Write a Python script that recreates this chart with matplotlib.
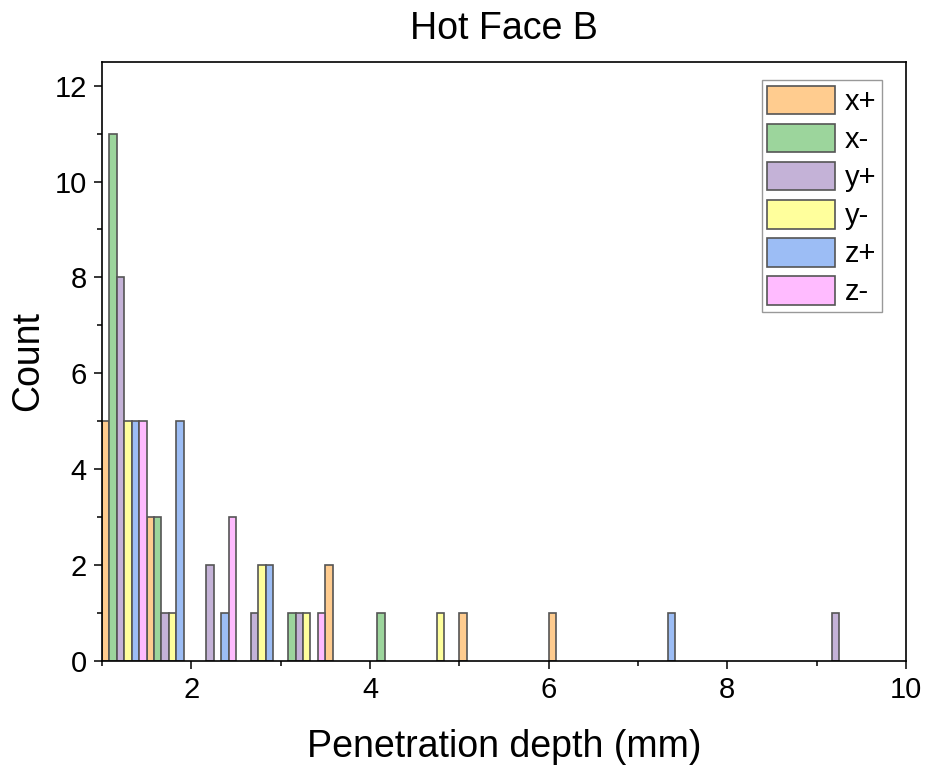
import numpy as np
import matplotlib
matplotlib.use("Agg")
import matplotlib.pyplot as plt
from matplotlib.ticker import MultipleLocator

plt.rcParams['font.family'] = ['Liberation Sans', 'DejaVu Sans']

# Histogram bins (left edges, width 0.5 mm)
bin_lefts = [1.0, 1.5, 2.0, 2.5, 3.0, 3.5, 4.0, 4.5, 5.0, 5.5,
             6.0, 6.5, 7.0, 7.5, 8.0, 8.5, 9.0, 9.5]
bin_width = 0.5

series_names = ["x+", "x-", "y+", "y-", "z+", "z-"]
counts_xp = [5, 3, 0, 0, 0, 2, 0, 0, 1, 0, 1, 0, 0, 0, 0, 0, 0, 0]
counts_xm = [11, 3, 0, 0, 1, 0, 1, 0, 0, 0, 0, 0, 0, 0, 0, 0, 0, 0]
counts_yp = [8, 1, 2, 1, 1, 0, 0, 0, 0, 0, 0, 0, 0, 0, 0, 0, 1, 0]
counts_ym = [5, 1, 0, 2, 1, 0, 0, 1, 0, 0, 0, 0, 0, 0, 0, 0, 0, 0]
counts_zp = [5, 5, 1, 2, 0, 0, 0, 0, 0, 0, 0, 0, 1, 0, 0, 0, 0, 0]
counts_zm = [5, 0, 3, 0, 1, 0, 0, 0, 0, 0, 0, 0, 0, 0, 0, 0, 0, 0]
all_counts = [counts_xp, counts_xm, counts_yp, counts_ym, counts_zp, counts_zm]

colors = ["#FFCC8F", "#9CD59C", "#C4B2D7", "#FFFF9C", "#9CBDF5", "#FFBBFF"]

fig = plt.figure(figsize=(9.25, 7.66), dpi=100)
ax = fig.add_axes([0.1102, 0.1371, 0.9795 - 0.1102, 0.9195 - 0.1371])

n = len(series_names)
w = bin_width / n
edges = np.array(bin_lefts)
for i, (name, cnt, col) in enumerate(zip(series_names, all_counts, colors)):
    cnt = np.array(cnt)
    mask = cnt > 0
    ax.bar(edges[mask] + i * w, cnt[mask], width=w, align='edge',
           color=col, edgecolor='#555555', linewidth=1.2, label=name)

ax.set_xlim(1, 10)
ax.set_ylim(0, 12.5)
ax.xaxis.set_major_locator(MultipleLocator(2))
ax.xaxis.set_minor_locator(MultipleLocator(1))
ax.yaxis.set_major_locator(MultipleLocator(2))
ax.yaxis.set_minor_locator(MultipleLocator(1))
ax.tick_params(which='major', direction='out', length=6, width=1.1, labelsize=21, pad=5)
ax.tick_params(which='minor', direction='out', length=3.3, width=1.1)
for s in ax.spines.values():
    s.set_linewidth(1.2)

ax.set_title("Hot Face B", fontsize=27, pad=16)
ax.set_xlabel("Penetration depth (mm)", fontsize=27, labelpad=18)
ax.set_ylabel("Count", fontsize=27, labelpad=6)

leg = ax.legend(loc='upper right', bbox_to_anchor=(0.9698, 0.9695), borderaxespad=0,
                fontsize=21, handlelength=2.3, handleheight=1.13, labelspacing=0.27,
                borderpad=0.2, handletextpad=0.34, fancybox=False, framealpha=1)
leg.get_frame().set_edgecolor('#999999')
leg.get_frame().set_linewidth(1.0)

fig.savefig("out.png", dpi=100)
